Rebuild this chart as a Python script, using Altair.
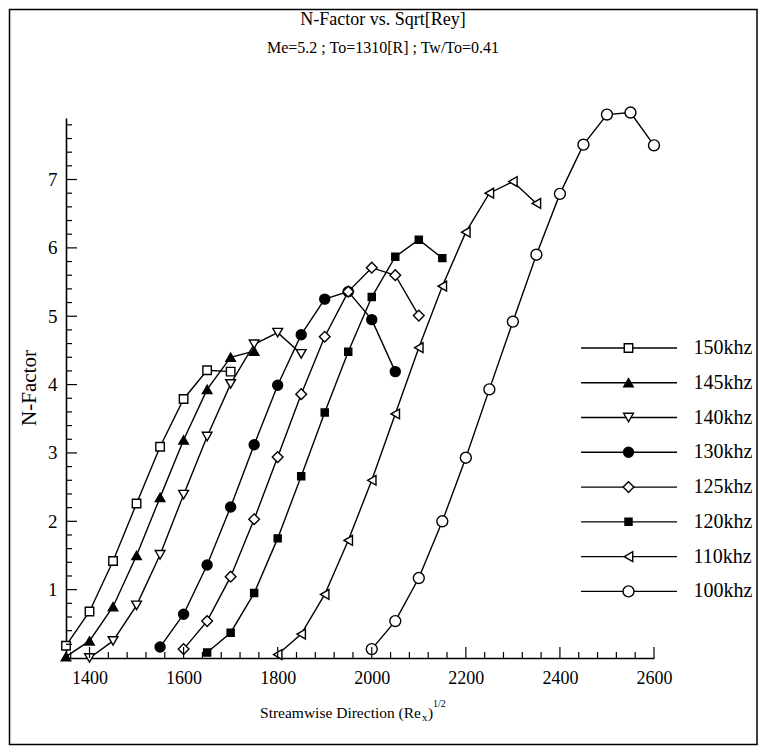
import altair as alt
import pandas as pd

# ---------------- data ----------------
series_names = ["150khz", "145khz", "140khz", "130khz", "125khz", "120khz", "110khz", "100khz"]
shapes = ["square", "triangle-up", "triangle-down", "circle", "diamond", "square", "triangle-left", "circle"]
fills = ["white", "black", "white", "black", "white", "black", "white", "white"]
sizes = [72, 90, 95, 100, 115, 50, 95, 120]

x150 = [1350, 1400, 1450, 1500, 1550, 1600, 1650, 1700]
y150 = [0.18, 0.68, 1.42, 2.26, 3.09, 3.79, 4.21, 4.19]

x145 = [1350, 1400, 1450, 1500, 1550, 1600, 1650, 1700, 1750]
y145 = [0.02, 0.25, 0.75, 1.50, 2.35, 3.19, 3.93, 4.40, 4.49]

x140 = [1400, 1450, 1500, 1550, 1600, 1650, 1700, 1750, 1800, 1850]
y140 = [0.0, 0.25, 0.77, 1.51, 2.39, 3.24, 4.01, 4.59, 4.76, 4.45]

x130 = [1550, 1600, 1650, 1700, 1750, 1800, 1850, 1900, 1950, 2000, 2050]
y130 = [0.16, 0.64, 1.36, 2.21, 3.12, 3.99, 4.73, 5.25, 5.36, 4.95, 4.19]

x125 = [1600, 1650, 1700, 1750, 1800, 1850, 1900, 1950, 2000, 2050, 2100]
y125 = [0.13, 0.54, 1.19, 2.03, 2.94, 3.86, 4.70, 5.36, 5.71, 5.60, 5.01]

x120 = [1650, 1700, 1750, 1800, 1850, 1900, 1950, 2000, 2050, 2100, 2150]
y120 = [0.08, 0.37, 0.95, 1.75, 2.66, 3.59, 4.48, 5.28, 5.87, 6.12, 5.85]

x110 = [1800, 1850, 1900, 1950, 2000, 2050, 2100, 2150, 2200, 2250, 2300, 2350]
y110 = [0.05, 0.35, 0.93, 1.72, 2.60, 3.57, 4.54, 5.44, 6.23, 6.80, 6.97, 6.65]

x100 = [2000, 2050, 2100, 2150, 2200, 2250, 2300, 2350, 2400, 2450, 2500, 2550, 2600]
y100 = [0.13, 0.54, 1.17, 2.00, 2.93, 3.93, 4.92, 5.90, 6.79, 7.51, 7.95, 7.98, 7.50]

x_labels = [1400, 1600, 1800, 2000, 2200, 2400, 2600]
y_labels = [1, 2, 3, 4, 5, 6, 7]
x_minor = [v for v in range(1360, 2601, 40) if v not in x_labels]
y_minor = [round(i * 0.2, 1) for i in range(1, 40) if i % 5 != 0]

title_text = "N-Factor vs. Sqrt[Rey]"
subtitle_text = "Me=5.2 ; To=1310[R] ; Tw/To=0.41"
ytitle_text = "N-Factor"

# ---------------- build table ----------------
xs = [x150, x145, x140, x130, x125, x120, x110, x100]
ys = [y150, y145, y140, y130, y125, y120, y110, y100]
rows = []
for name, xv, yv in zip(series_names, xs, ys):
    for a, b in zip(xv, yv):
        rows.append({"series": name, "x": a, "y": b})
df = pd.DataFrame(rows)

W, H = 588, 540
FONT = "Liberation Serif"

xscale = alt.Scale(domain=[1350, 2600], nice=False, zero=False)
yscale = alt.Scale(domain=[0, 7.9], nice=False, zero=False)

X = alt.X("x:Q", scale=xscale,
          axis=alt.Axis(values=x_labels, title=None, grid=False, ticks=False, tickSize=0,
                        labelPadding=11, labelFont=FONT, labelFontSize=18, labelColor="black",
                        labelFlush=False, labelOverlap=False,
                        domainColor="black", domainWidth=1.6, format="d"))
Y = alt.Y("y:Q", scale=yscale,
          axis=alt.Axis(values=y_labels, title=None, grid=False, ticks=False, tickSize=0,
                        labelPadding=9, labelFont=FONT, labelFontSize=19, labelColor="black",
                        labelFlush=False, labelOverlap=False,
                        domainColor="black", domainWidth=1.6, format="d"))

shape_scale = alt.Scale(type="ordinal", domain=series_names, range=shapes)
fill_scale = alt.Scale(type="ordinal", domain=series_names, range=fills)
size_scale = alt.Scale(type="ordinal", domain=series_names, range=sizes)

lines = alt.Chart(df).mark_line(color="black", strokeWidth=1.4).encode(
    x=X, y=Y, detail="series:N", order="x:Q")

points = alt.Chart(df).mark_point(filled=False, stroke="black", strokeWidth=1.4, opacity=1).encode(
    x=X, y=Y,
    shape=alt.Shape("series:N", scale=shape_scale, legend=None),
    fill=alt.Fill("series:N", scale=fill_scale, legend=None),
    size=alt.Size("series:N", scale=size_scale, legend=None),
)

xt_major = alt.Chart(pd.DataFrame({"v": x_labels})).mark_rule(color="black", strokeWidth=1.2).encode(
    x=alt.X("v:Q", scale=xscale), y=alt.value(H), y2=alt.value(H - 11))
xt_minor = alt.Chart(pd.DataFrame({"v": x_minor})).mark_rule(color="black", strokeWidth=1.2).encode(
    x=alt.X("v:Q", scale=xscale), y=alt.value(H), y2=alt.value(H - 6))
yt_major = alt.Chart(pd.DataFrame({"v": y_labels})).mark_rule(color="black", strokeWidth=1.2).encode(
    y=alt.Y("v:Q", scale=yscale), x=alt.value(0), x2=alt.value(11))
yt_minor = alt.Chart(pd.DataFrame({"v": y_minor})).mark_rule(color="black", strokeWidth=1.2).encode(
    y=alt.Y("v:Q", scale=yscale), x=alt.value(0), x2=alt.value(6))

main = alt.layer(lines, points, xt_major, xt_minor, yt_major, yt_minor)

# ---------------- legend ----------------
leg_df = pd.DataFrame({"series": series_names})
LY = alt.Y("series:N", sort=series_names,
           scale=alt.Scale(type="point", domain=series_names, range=[230, 473.4], padding=0),
           axis=None)
leg_rule = alt.Chart(leg_df).mark_rule(color="black", strokeWidth=1.4).encode(
    y=LY, x=alt.value(515), x2=alt.value(611))
leg_pts = alt.Chart(leg_df).mark_point(filled=False, stroke="black", strokeWidth=1.4, opacity=1).encode(
    y=LY, x=alt.value(562.5),
    shape=alt.Shape("series:N", scale=shape_scale, legend=None),
    fill=alt.Fill("series:N", scale=fill_scale, legend=None),
    size=alt.Size("series:N", scale=size_scale, legend=None),
)
leg_txt = alt.Chart(leg_df).mark_text(align="left", baseline="middle", font=FONT, fontSize=20,
                                      color="black").encode(
    y=LY, x=alt.value(627.5), text="series:N")
legend = alt.layer(leg_rule, leg_pts, leg_txt)

# ---------------- texts / frame ----------------
one = pd.DataFrame({"t": [title_text]})
frame = alt.Chart(one).mark_rect(fillOpacity=0, stroke="black", strokeWidth=1.5).encode(
    x=alt.value(-56.5), x2=alt.value(691), y=alt.value(-108.5), y2=alt.value(626.5))
title = alt.Chart(pd.DataFrame({"t": [title_text]})).mark_text(
    font=FONT, fontSize=18, color="black", align="center", baseline="middle").encode(
    x=alt.value(317), y=alt.value(-98), text="t:N")
subtitle = alt.Chart(pd.DataFrame({"t": [subtitle_text]})).mark_text(
    font=FONT, fontSize=16, color="black", align="center", baseline="middle").encode(
    x=alt.value(317), y=alt.value(-70), text="t:N")
ytitle = alt.Chart(pd.DataFrame({"t": [ytitle_text]})).mark_text(
    font=FONT, fontSize=21, color="black", align="center", baseline="middle", angle=270).encode(
    x=alt.value(-36), y=alt.value(270), text="t:N")
xt1 = alt.Chart(pd.DataFrame({"t": ["Streamwise Direction (Re"]})).mark_text(
    font=FONT, fontSize=15.5, color="black", align="right", baseline="middle").encode(
    x=alt.value(355), y=alt.value(595), text="t:N")
xt2 = alt.Chart(pd.DataFrame({"t": ["x"]})).mark_text(
    font=FONT, fontSize=11, color="black", align="left", baseline="middle").encode(
    x=alt.value(356), y=alt.value(600), text="t:N")
xt3 = alt.Chart(pd.DataFrame({"t": [")"]})).mark_text(
    font=FONT, fontSize=15.5, color="black", align="left", baseline="middle").encode(
    x=alt.value(362), y=alt.value(595), text="t:N")
xt4 = alt.Chart(pd.DataFrame({"t": ["1/2"]})).mark_text(
    font=FONT, fontSize=10, color="black", align="left", baseline="middle").encode(
    x=alt.value(367), y=alt.value(586), text="t:N")

chart = alt.layer(frame, main, legend, title, subtitle, ytitle, xt1, xt2, xt3, xt4).resolve_scale(
    y="independent"
).properties(
    width=W, height=H,
    autosize=alt.AutoSizeParams(type="none"),
    padding={"left": 58, "top": 110, "right": 106, "bottom": 90},
    background="white",
).configure_view(strokeWidth=0)

chart.save("out.html", embed_options={"renderer": "svg", "actions": False})
